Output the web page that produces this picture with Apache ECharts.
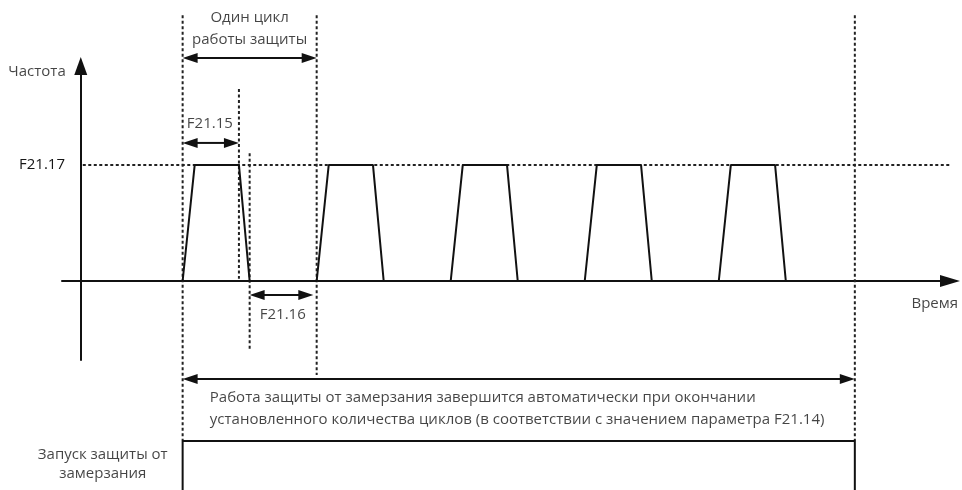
<!DOCTYPE html>
<html><head><meta charset="utf-8">
<script src="https://cdn.jsdelivr.net/npm/echarts@6/dist/echarts.min.js"></script>
<style>html,body{margin:0;padding:0;background:#fff}#c{width:962px;height:490px}</style>
</head><body><div id="c"></div>
<script>
// ---- data (time in arbitrary units, frequency: F21.17 level = 1) ----
const waveTime = [7.6, 8.5, 11.8, 12.6, 17.6, 18.5, 21.8, 22.6, 27.6, 28.5, 31.8, 32.6, 37.6, 38.5, 41.8, 42.6, 47.6, 48.5, 51.8, 52.6];
const waveFreq = [0, 1, 1, 0, 0, 1, 1, 0, 0, 1, 1, 0, 0, 1, 1, 0, 0, 1, 1, 0];
const levelF2117 = 1;
const levelLineFrom = 0.15, levelLineTo = 65.8;
// dotted vertical guides
const guideTime = [7.6, 17.6, 11.8, 12.6, 57.75];
const guideTop = [2.29, 2.29, 1.655, 1.10, 2.29];
const guideBottom = [-1.379, -0.81, 0.02, -0.595, -1.379];
// double arrows (spans)
const spanFrom = [7.6, 7.6, 12.6, 7.6];
const spanTo = [17.6, 11.8, 17.35, 57.75];
const spanLevel = [1.922, 1.19, -0.121, -0.845];
// start signal (step)
const signalTime = [7.6, 7.6, 57.75, 57.75];
const signalLevel = [-1.9, -1.379, -1.379, -1.9];
// texts
const labelText = ['Один цикл', 'работы защиты', 'F21.15', 'F21.16', 'Частота', 'Время',
  'Работа защиты от замерзания завершится автоматически при окончании',
  'установленного количества циклов (в соответствии с значением параметра F21.14)',
  'Запуск защиты от\nзамерзания'];
const labelTime = [12.6, 12.6, 9.63, 15.07, -1.12, 65.45, 9.63, 9.63, 1.64];
const labelLevel = [2.267, 2.078, 1.353, -0.293, 1.80, -0.198, -1.009, -1.198, -1.578];
const labelAlign = ['center', 'center', 'center', 'center', 'right', 'right', 'left', 'left', 'center'];
const yTickValues = [1];
const yTickLabels = ['F21.17'];

const INK = '#111';
const DOT = '#222';
const TXT = '#151515';
const FONT = 'Open Sans';

const chart = echarts.init(document.getElementById('c'));
chart.setOption({
  animation: false,
  backgroundColor: '#fff',
  textStyle: { fontFamily: FONT },
  grid: { left: 62, right: 12, top: 66, bottom: 130, outerBoundsMode: 'none' },
  xAxis: {
    type: 'value', min: -1.4, max: 64.85,
    axisLine: { onZero: true, symbol: ['none', 'triangle'], symbolSize: [12, 20], lineStyle: { color: INK, width: 2 } },
    axisTick: { show: false }, axisLabel: { show: false }, splitLine: { show: false }
  },
  yAxis: {
    type: 'value', min: -0.681, max: 1.853,
    axisLine: { onZero: true, symbol: ['none', 'triangle'], symbolSize: [13, 18], lineStyle: { color: INK, width: 2 } },
    axisTick: { show: false }, splitLine: { show: false },
    axisLabel: {
      customValues: yTickValues, margin: -3, color: TXT, fontSize: 15, fontFamily: FONT,
      formatter: v => yTickLabels[yTickValues.indexOf(v)] || ''
    }
  },
  series: [
    {
      name: 'F21.17 level', type: 'line', clip: false, symbol: 'none', silent: true,
      data: [[levelLineFrom, levelF2117], [levelLineTo, levelF2117]],
      lineStyle: { color: DOT, width: 2, type: [3, 2.5] }
    },
    {
      name: 'guides', type: 'custom', clip: false, silent: true,
      data: guideTime.map((t, i) => [t, guideTop[i], guideBottom[i]]),
      encode: { x: 0, y: [1, 2] },
      renderItem: (params, api) => {
        const a = api.coord([api.value(0), api.value(1)]);
        const b = api.coord([api.value(0), api.value(2)]);
        return { type: 'line', shape: { x1: a[0], y1: a[1], x2: b[0], y2: b[1] },
          style: { stroke: DOT, lineWidth: 2, lineDash: [3, 2.5] } };
      }
    },
    {
      name: 'Частота', type: 'line', symbol: 'none', silent: true,
      data: waveTime.map((t, i) => [t, waveFreq[i]]),
      lineStyle: { color: INK, width: 2 }
    },
    {
      name: 'spans', type: 'custom', clip: false, silent: true,
      data: spanFrom.map((f, i) => [f, spanTo[i], spanLevel[i]]),
      encode: { x: [0, 1], y: 2 },
      renderItem: (params, api) => {
        const a = api.coord([api.value(0), api.value(2)]);
        const b = api.coord([api.value(1), api.value(2)]);
        const L = 15, W = 5;
        return { type: 'group', children: [
          { type: 'line', shape: { x1: a[0] + L - 2, y1: a[1], x2: b[0] - L + 2, y2: b[1] }, style: { stroke: INK, lineWidth: 2 } },
          { type: 'polygon', shape: { points: [[a[0], a[1]], [a[0] + L, a[1] - W], [a[0] + L, a[1] + W]] }, style: { fill: INK } },
          { type: 'polygon', shape: { points: [[b[0], b[1]], [b[0] - L, b[1] - W], [b[0] - L, b[1] + W]] }, style: { fill: INK } }
        ] };
      }
    },
    {
      name: 'Запуск защиты', type: 'line', clip: false, symbol: 'none', silent: true,
      data: signalTime.map((t, i) => [t, signalLevel[i]]),
      lineStyle: { color: INK, width: 2 }
    },
    {
      name: 'texts', type: 'scatter', clip: false, silent: true, symbolSize: 0,
      data: labelText.map((s, i) => ({
        value: [labelTime[i], labelLevel[i]], name: s,
        label: { align: labelAlign[i] }
      })),
      label: {
        show: true, position: 'inside', formatter: p => p.name, color: TXT,
        fontSize: 15, fontFamily: FONT, verticalAlign: 'middle', lineHeight: 19
      }
    }
  ]
});
</script></body></html>
